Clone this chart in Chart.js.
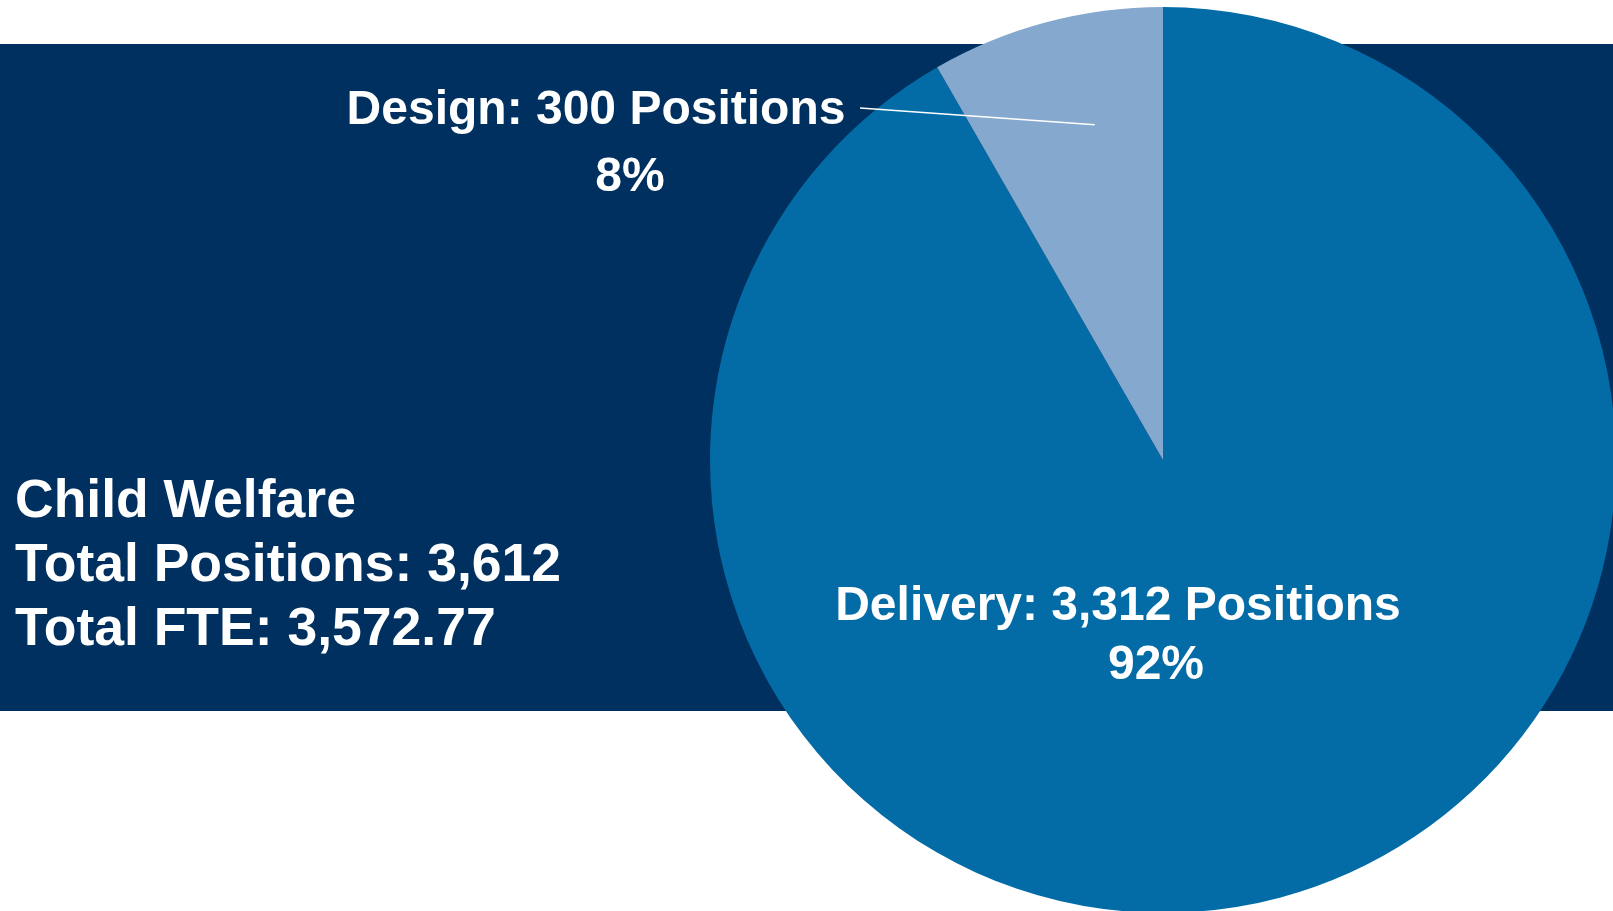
<!DOCTYPE html>
<html>
<head>
<meta charset="utf-8">
<script src="https://cdn.jsdelivr.net/npm/chart.js@4"></script>
<style>
  html, body { margin: 0; padding: 0; background: #ffffff; overflow: hidden; }
  body { width: 1613px; height: 911px; position: relative; font-family: "Liberation Sans", Arial, sans-serif; }
  .band { position: absolute; left: 0; top: 44px; width: 1613px; height: 667px; background: #00305f; }
  .summary { position: absolute; left: 15px; top: 467px; color: #ffffff; font-weight: bold; font-size: 53.5px; line-height: 64px; white-space: nowrap; }
  .chart-box { position: absolute; left: 0; top: 0; width: 1700px; height: 920px; }
</style>
</head>
<body>
  <div class="band"></div>
  <div class="summary">
    <div>Child Welfare</div>
    <div>Total Positions: 3,612</div>
    <div>Total FTE: 3,572.77</div>
  </div>
  <div class="chart-box"><canvas id="chartPositions"></canvas></div>

<script>
const categories = ["Delivery", "Design"];
const positions = [3312, 300];
const sliceColors = ["#036ca6", "#85a8ce"];

const total = positions.reduce((a, b) => a + b, 0);

// label placement, offsets from the pie centre (px)
const labelLayout = {
  Delivery: { lines: [[-45, 160], [-7, 219]] },
  Design: { lines: [[-567, -336], [-533, -269]], leader: { from: [-303, -352], frac: 0.615, r: 0.755 } }
};

const labelPlugin = {
  id: "sliceLabels",
  afterDatasetsDraw(chart) {
    const ctx = chart.ctx;
    const meta = chart.getDatasetMeta(0);
    ctx.save();
    ctx.fillStyle = "#ffffff";
    ctx.strokeStyle = "#ffffff";
    ctx.font = "bold 48px 'Liberation Sans', Arial, sans-serif";
    ctx.textAlign = "center";
    ctx.textBaseline = "alphabetic";
    meta.data.forEach((arc, i) => {
      const name = categories[i];
      const lay = labelLayout[name];
      const p = arc.getProps(["x", "y", "startAngle", "endAngle", "outerRadius"], true);
      const pct = Math.round(positions[i] / total * 100) + "%";
      const text = [name + ": " + positions[i].toLocaleString("en-US") + " Positions", pct];
      text.forEach((t, k) => {
        ctx.fillText(t, p.x + lay.lines[k][0], p.y + lay.lines[k][1]);
      });
      if (lay.leader) {
        const a = p.startAngle + (p.endAngle - p.startAngle) * lay.leader.frac;
        const ex = p.x + Math.cos(a) * p.outerRadius * lay.leader.r;
        const ey = p.y + Math.sin(a) * p.outerRadius * lay.leader.r;
        ctx.lineWidth = 1.5;
        ctx.beginPath();
        ctx.moveTo(p.x + lay.leader.from[0], p.y + lay.leader.from[1]);
        ctx.lineTo(ex, ey);
        ctx.stroke();
      }
    });
    ctx.restore();
  }
};

const ctx = document.getElementById("chartPositions").getContext("2d");
new Chart(ctx, {
  type: "pie",
  data: {
    labels: categories,
    datasets: [{
      data: positions,
      backgroundColor: sliceColors,
      borderWidth: 0
    }]
  },
  options: {
    responsive: true,
    maintainAspectRatio: false,
    animation: false,
    layout: { padding: { left: 710, top: 7, right: 84, bottom: 7 } },
    plugins: {
      legend: { display: false },
      tooltip: { enabled: false }
    }
  },
  plugins: [labelPlugin]
});
</script>
</body>
</html>
